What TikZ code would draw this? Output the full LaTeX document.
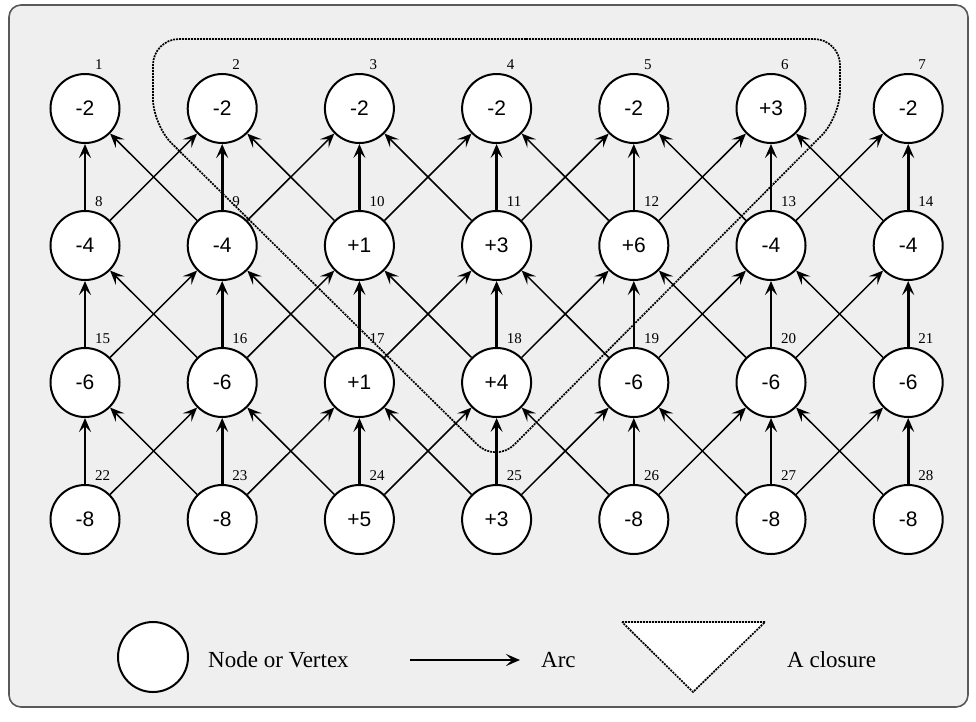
\documentclass[tikz,border=0pt]{standalone}
\usepackage{fontspec}
\setmainfont{Liberation Serif}
\newfontfamily\valfont{Liberation Sans}
\usetikzlibrary{arrows.meta}
\definecolor{bg}{HTML}{EFEFEF}
\begin{document}
\begin{tikzpicture}[x=1pt,y=-1pt,
  vert/.style={circle, draw, line width=2pt, fill=white, minimum size=69pt, inner sep=0pt, font=\valfont\fontsize{21}{24}\selectfont},
  idx/.style={anchor=west, inner sep=0pt, font=\fontsize{15}{17}\selectfont},
  tip/.style={-{Stealth[length=14pt, width=12pt, inset=6pt]}},
  arcmain/.style={line width=2.6pt, tip},
  arcside/.style={line width=1.5pt, tip},
  closure/.style={line width=1.7pt, dash pattern=on 2pt off 1pt},
  legendtext/.style={anchor=west, inner sep=0pt, font=\fontsize{23}{26}\selectfont}]
\useasboundingbox (0,0) rectangle (976,721);
\fill[white] (0,0) rectangle (976,721);
\draw[fill=bg, draw=black!65, line width=1.6pt, rounded corners=12pt] (9,5) rectangle (968,707);
% closure
\draw[closure, rounded corners=26pt] (500,39) -- (840,39) -- (840,117) -- (496,463) -- (153,125) -- (153,39) -- cycle;
% nodes
\foreach \v [count=\i] in {-2,-2,-2,-2,-2,+3,-2,
                          -4,-4,+1,+3,+6,-4,-4,
                          -6,-6,+1,+4,-6,-6,-6,
                          -8,-8,+5,+3,-8,-8,-8}{
  \pgfmathsetmacro\cx{85+137.2*mod(\i-1,7)}
  \pgfmathsetmacro\cy{108.5+137*int((\i-1)/7)}
  \node[vert] (n\i) at (\cx,\cy) {\v};
  \node[idx] (l\i) at (\cx+10,\cy-43.5) {\i};
}
% arcs
\foreach \r in {2,3,4}{
  \foreach \c in {1,...,7}{
    \pgfmathtruncatemacro\s{(\r-1)*7+\c}
    \pgfmathtruncatemacro\t{(\r-2)*7+\c}
    \pgfmathtruncatemacro\tl{\t-1}
    \pgfmathtruncatemacro\tr{\t+1}
    \draw[arcmain] (n\s) -- (n\t);
    \ifnum\c>1 \draw[arcside] (n\s) -- (n\tl); \fi
    \ifnum\c<7 \draw[arcside] (n\s) -- (n\tr); \fi
  }
}
% legend
\node[vert, minimum size=70pt] (lgc) at (153,657) {};
\node[legendtext] (lgt1) at (208,660) {Node or Vertex};
\coordinate (lga1) at (410,660);
\coordinate (lga2) at (520,660);
\draw[arcmain] (lga1) -- (lga2);
\node[legendtext] (lgt2) at (541,660) {Arc};
\draw[closure, fill=white] (622,622) -- (765,622) -- (693,692) -- cycle;
\node[legendtext] (lgt3) at (787,660) {A closure};
\end{tikzpicture}
\end{document}
